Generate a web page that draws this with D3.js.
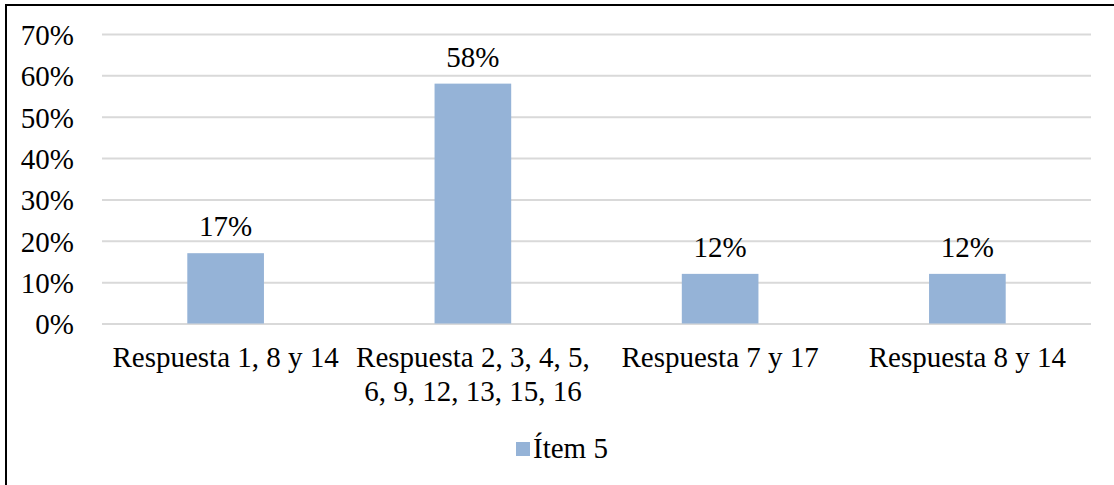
<!DOCTYPE html>
<html>
<head>
<meta charset="utf-8">
<script src="https://cdn.jsdelivr.net/npm/d3@7"></script>
<style>
  html, body { margin: 0; padding: 0; background: #fff; }
  svg { display: block; }
  svg text { font-family: "Liberation Serif", "Times New Roman", serif !important; fill: #000; }
</style>
</head>
<body>
<svg id="chart" width="1114" height="485"></svg>
<script>
// Chart data
const categories = [
  "Respuesta 1, 8 y 14",
  "Respuesta 2, 3, 4, 5, 6, 9, 12, 13, 15, 16",
  "Respuesta 7 y 17",
  "Respuesta 8 y 14"
];
const values = [0.17, 0.58, 0.12, 0.12];
const seriesName = "Ítem 5";
const yTicks = [0, 0.1, 0.2, 0.3, 0.4, 0.5, 0.6, 0.7];

const W = 1114, H = 485;
const plot = { left: 102, right: 1091, top: 34, bottom: 323.5 };
const fontSize = 29;
const serif = "'Liberation Serif', 'Times New Roman', serif";
const barColor = "#95b3d7";
const gridColor = "#d9d9d9";

const svg = d3.select("#chart");

// Outer frame
svg.append("rect")
  .attr("x", 6).attr("y", 5)
  .attr("width", W + 20).attr("height", H + 20)
  .attr("fill", "none").attr("stroke", "#000").attr("stroke-width", 2);

const x = d3.scaleBand()
  .domain(categories)
  .range([plot.left, plot.right])
  .paddingInner(0.69)
  .paddingOuter(0.345);

const y = d3.scaleLinear()
  .domain([0, 0.7])
  .range([plot.bottom, plot.top]);

const fmt = d3.format(".0%");

// Horizontal gridlines + y labels
const yAxis = d3.axisLeft(y)
  .tickValues(yTicks)
  .tickFormat(fmt)
  .tickSize(-(plot.right - plot.left))
  .tickPadding(plot.left - 74);

const gy = svg.append("g")
  .attr("transform", `translate(${plot.left},0)`)
  .call(yAxis)
  .attr("font-family", null)
  .attr("font-size", null);
gy.select(".domain").remove();
gy.selectAll(".tick line").attr("stroke", gridColor).attr("stroke-width", 2);
gy.selectAll(".tick text")
  .style("font-family", serif)
  .style("font-size", fontSize + "px")
  .attr("fill", "#000")
  .attr("dy", "0.36em");

// Bars
svg.append("g").selectAll("rect")
  .data(values)
  .join("rect")
  .attr("x", (d, i) => x(categories[i]))
  .attr("width", x.bandwidth())
  .attr("y", d => y(d))
  .attr("height", d => y(0) - y(d))
  .attr("fill", barColor);

// Value labels
svg.append("g").selectAll("text")
  .data(values)
  .join("text")
  .attr("x", (d, i) => x(categories[i]) + x.bandwidth() / 2)
  .attr("y", d => y(d) - 17)
  .attr("text-anchor", "middle")
  .style("font-family", serif)
  .style("font-size", fontSize + "px")
  .text(d => fmt(d));

// Category labels, wrapped to the band step
const step = x.step();
const gx = svg.append("g");
categories.forEach(cat => {
  const cx = x(cat) + x.bandwidth() / 2;
  const t = gx.append("text")
    .attr("x", cx)
    .attr("y", 367)
    .attr("text-anchor", "middle")
    .style("font-family", serif)
    .style("font-size", fontSize + "px");
  const words = cat.split(" ");
  let line = [];
  let tspan = t.append("tspan").attr("x", cx).attr("dy", 0);
  words.forEach(w => {
    line.push(w);
    tspan.text(line.join(" "));
    if (tspan.node().getComputedTextLength() > step - 6 && line.length > 1) {
      line.pop();
      tspan.text(line.join(" "));
      line = [w];
      tspan = t.append("tspan")
        .attr("x", cx)
        .attr("dy", 34)
        .text(w);
    }
  });
});

// Legend
const legend = svg.append("g");
legend.append("rect")
  .attr("x", 516).attr("y", 442)
  .attr("width", 14).attr("height", 14)
  .attr("fill", barColor);
legend.append("text")
  .attr("x", 533).attr("y", 458)
  .style("font-family", serif)
  .style("font-size", fontSize + "px")
  .text(seriesName);
</script>
</body>
</html>
